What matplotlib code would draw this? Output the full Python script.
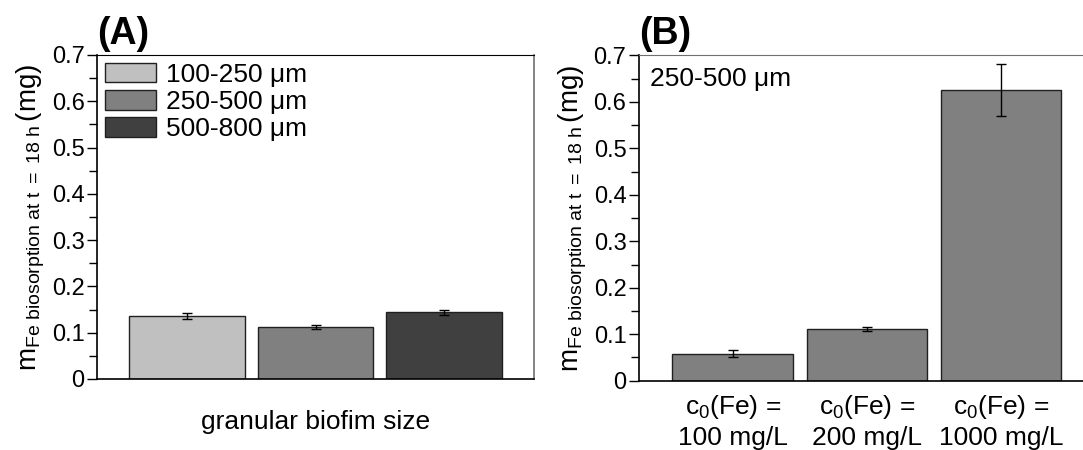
import numpy as np
import matplotlib
matplotlib.use('Agg')
import matplotlib.pyplot as plt
from matplotlib.ticker import MultipleLocator

plt.rcParams['font.family'] = ['Liberation Sans', 'DejaVu Sans']
plt.rcParams['mathtext.fontset'] = 'custom'
plt.rcParams['mathtext.rm'] = 'Liberation Sans'
plt.rcParams['mathtext.it'] = 'Liberation Sans'

# panel A - granule size
size_labels = ['100-250 μm', '250-500 μm', '500-800 μm']
size_values = [0.136, 0.112, 0.144]
size_errors = [0.006, 0.005, 0.005]
size_colors = ['#c0c0c0', '#808080', '#404040']

# panel B - initial Fe concentration
conc_labels = ['c$_0$(Fe) =\n100 mg/L', 'c$_0$(Fe) =\n200 mg/L', 'c$_0$(Fe) =\n1000 mg/L']
conc_values = [0.058, 0.111, 0.625]
conc_errors = [0.007, 0.005, 0.056]

ylab = r'm$_{\mathregular{Fe\ biosorption\ at\ t\ {=}\ 18\ h}}\,$(mg)'

fig = plt.figure(figsize=(10.83, 4.5), dpi=100)
axA = fig.add_axes([0.0896, 0.1578, 0.4035, 0.72])
axB = fig.add_axes([0.590, 0.1540, 0.421, 0.7230])


def style(ax):
    ax.set_ylim(0, 0.7)
    ax.set_xlim(-0.7, 2.7)
    ax.yaxis.set_major_locator(MultipleLocator(0.1))
    ax.yaxis.set_minor_locator(MultipleLocator(0.05))
    ax.tick_params(axis='y', which='major', direction='out', length=7, width=1, labelsize=17, pad=2)
    ax.tick_params(axis='y', which='minor', direction='out', length=6, width=1)
    ax.tick_params(axis='x', length=0)
    ax.set_yticks(np.arange(0, 0.71, 0.1))
    ax.set_yticklabels(['0', '0.1', '0.2', '0.3', '0.4', '0.5', '0.6', '0.7'])
    ax.set_ylabel(ylab, fontsize=20, labelpad=3)
    for s in ['left', 'bottom']:
        ax.spines[s].set_linewidth(1.2)
        ax.spines[s].set_color('black')


x = np.arange(3)
for i in range(3):
    axA.bar(x[i], size_values[i], 0.9, color=size_colors[i], edgecolor='#202020',
            linewidth=1, label=size_labels[i], zorder=2)
axA.errorbar(x, size_values, yerr=size_errors, fmt='none', ecolor='black',
             elinewidth=1, capsize=3.5, capthick=1, zorder=3)
style(axA)
axA.set_xticks([])
axA.set_xlabel('granular biofim size', fontsize=19, labelpad=22)
axA.spines['top'].set_color('black')
axA.spines['right'].set_color('#707070')
axA.spines['right'].set_linewidth(1.2)
axA.legend(loc='upper left', frameon=False, fontsize=19, handlelength=1.92,
           handleheight=0.76, handletextpad=0.4, labelspacing=0.12,
           borderaxespad=0.1, borderpad=0.2)
axA.text(0.0, 1.01, '(A)', transform=axA.transAxes, fontsize=27, fontweight='bold',
         ha='left', va='bottom')

axB.bar(x, conc_values, 0.9, color='#808080', edgecolor='#202020', linewidth=1, zorder=2)
axB.errorbar(x, conc_values, yerr=conc_errors, fmt='none', ecolor='black',
             elinewidth=1, capsize=3.5, capthick=1, zorder=3)
style(axB)
axB.set_xticks(x)
axB.set_xticklabels(conc_labels, fontsize=19, linespacing=1.25)
axB.tick_params(axis='x', pad=9)
axB.spines['top'].set_color('#707070')
axB.spines['right'].set_visible(False)
axB.text(0.025, 0.965, '250-500 μm', transform=axB.transAxes, fontsize=19,
         ha='left', va='top')
axB.text(0.0, 1.01, '(B)', transform=axB.transAxes, fontsize=27, fontweight='bold',
         ha='left', va='bottom')

fig.savefig('out.png', dpi=100)
